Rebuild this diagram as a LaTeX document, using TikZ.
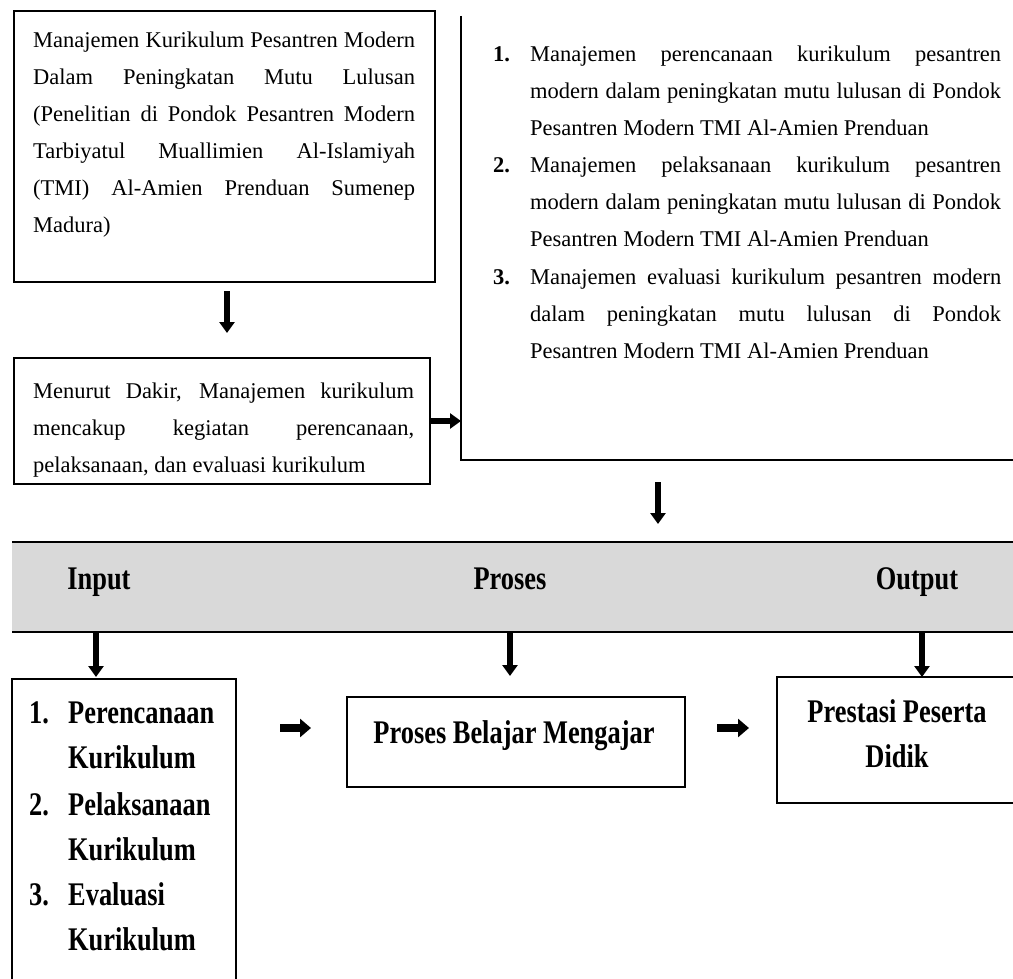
\documentclass[tikz,border=0pt]{standalone}
\usepackage{fontspec}
\setmainfont{Liberation Serif}
\usepackage{graphicx}
\usetikzlibrary{arrows.meta}

\newcommand\jl[1]{\makebox[\linewidth][s]{#1}\\}
\newcommand\cnd[1]{\scalebox{0.8}[1]{#1}}

\tikzset{
  boxline/.style={draw=black, line width=1.3pt},
  frame/.style={inner sep=0pt, outer sep=0pt, anchor=north west},
  arr/.style={line width=6.5pt, -{Triangle[width=15pt,length=11pt]}},
  fatarr/.style={line width=8pt, -{Triangle[width=18pt,length=11pt]}},
  txt/.style={inner sep=0pt, anchor=base west, font=\fontsize{22.5}{37}\selectfont},
  btxt/.style={inner sep=0pt, font=\fontsize{33}{45.5}\selectfont\bfseries},
}

\begin{document}
\begin{tikzpicture}[x=1pt,y=-1pt]
\useasboundingbox (0,0) rectangle (1013,979);

% ---------- frames ----------
\node[frame, boxline, minimum width=421pt, minimum height=271pt] (b1) at (14,11) {};
\node[frame, boxline, minimum width=416pt, minimum height=126pt] (b2) at (14,358) {};
\node[frame, minimum width=552pt, minimum height=444pt] (rb) at (461,16) {};
\draw[boxline] (rb.north west) -- (rb.south west) -- (rb.south east);

\node[frame, fill=gray!30, minimum width=1001pt, minimum height=90pt] (band) at (12,542) {};
\draw[boxline] (band.north west) -- (band.north east);
\draw[boxline] (band.south west) -- (band.south east);

\node[frame, minimum width=224pt, minimum height=300pt] (ib) at (12,679) {};
\draw[boxline] (ib.south west) -- (ib.north west) -- (ib.north east) -- (ib.south east);
\node[frame, boxline, minimum width=338pt, minimum height=90pt] (pb) at (347,697) {};
\node[frame, minimum width=236pt, minimum height=126pt] (ob) at (777,677) {};
\draw[boxline] (ob.north east) -- (ob.north west) -- (ob.south west) -- (ob.south east);

% ---------- texts, top ----------
\node[txt] (t1) at (33,48) {\parbox[t]{382pt}{%
\jl{Manajemen Kurikulum Pesantren Modern}%
\jl{Dalam Peningkatan Mutu Lulusan}%
\jl{(Penelitian di Pondok Pesantren Modern}%
\jl{Tarbiyatul Muallimien Al-Islamiyah}%
\jl{(TMI) Al-Amien Prenduan Sumenep}%
Madura)}};

\node[txt] (t2) at (33,398) {\parbox[t]{381pt}{%
\jl{Menurut Dakir, Manajemen kurikulum}%
\jl{mencakup kegiatan perencanaan,}%
pelaksanaan, dan evaluasi kurikulum}};

\node[txt, font=\fontsize{22.5}{37}\selectfont\bfseries] (n1) at (493,62) {1.};
\node[txt] (r1) at (530,62) {\parbox[t]{471pt}{%
\jl{Manajemen perencanaan kurikulum pesantren}%
\jl{modern dalam peningkatan mutu lulusan di Pondok}%
Pesantren Modern TMI Al-Amien Prenduan}};

\node[txt, font=\fontsize{22.5}{37}\selectfont\bfseries] (n2) at (493,173) {2.};
\node[txt] (r2) at (530,173) {\parbox[t]{471pt}{%
\jl{Manajemen pelaksanaan kurikulum pesantren}%
\jl{modern dalam peningkatan mutu lulusan di Pondok}%
Pesantren Modern TMI Al-Amien Prenduan}};

\node[txt, font=\fontsize{22.5}{37}\selectfont\bfseries] (n3) at (493,284) {3.};
\node[txt] (r3) at (530,284) {\parbox[t]{471pt}{%
\jl{Manajemen evaluasi kurikulum pesantren modern}%
\jl{dalam peningkatan mutu lulusan di Pondok}%
Pesantren Modern TMI Al-Amien Prenduan}};

% ---------- band labels ----------
\node[btxt, anchor=base] (lin) at (99,589) {\cnd{Input}};
\node[btxt, anchor=base] (lpr) at (510,589) {\cnd{Proses}};
\node[btxt, anchor=base] (lout) at (917,589) {\cnd{Output}};

% ---------- input list ----------
\node[btxt, anchor=base west] (i1) at (29,723) {\cnd{1.}};
\node[btxt, anchor=base west] (i1t) at (68,723) {\parbox[t]{165pt}{\cnd{Perencanaan}\\\cnd{Kurikulum}}};
\node[btxt, anchor=base west] (i2) at (29,815) {\cnd{2.}};
\node[btxt, anchor=base west] (i2t) at (68,815) {\parbox[t]{165pt}{\cnd{Pelaksanaan}\\\cnd{Kurikulum}}};
\node[btxt, anchor=base west] (i3) at (29,905) {\cnd{3.}};
\node[btxt, anchor=base west] (i3t) at (68,905) {\parbox[t]{165pt}{\cnd{Evaluasi}\\\cnd{Kurikulum}}};

% ---------- process / output ----------
\node[btxt, anchor=base] (pbt) at (514,743) {\cnd{Proses Belajar Mengajar}};
\node[btxt, anchor=base] (ot1) at (897,722) {\cnd{Prestasi Peserta}};
\node[btxt, anchor=base] (ot2) at (897,767) {\cnd{Didik}};

% ---------- arrows ----------
\coordinate (a1s) at (227,291);
\coordinate (a1e) at (227,333);
\draw[arr] (a1s) -- (a1e);

\draw[arr] (b2.east) -- (b2.east -| rb.west);

\coordinate (a3s) at (658,482);
\coordinate (a3e) at (658,524);
\draw[arr] (a3s) -- (a3e);

\coordinate (d1s) at (96,633);
\coordinate (d1e) at (96,677);
\coordinate (d2s) at (510,633);
\coordinate (d2e) at (510,676);
\coordinate (d3s) at (922,633);
\coordinate (d3e) at (922,677);
\draw[arr] (d1s) -- (d1e);
\draw[arr] (d2s) -- (d2e);
\draw[arr] (d3s) -- (d3e);

\coordinate (h1s) at (280,728);
\coordinate (h1e) at (311,728);
\coordinate (h2s) at (717,728);
\coordinate (h2e) at (749,728);
\draw[fatarr] (h1s) -- (h1e);
\draw[fatarr] (h2s) -- (h2e);
\end{tikzpicture}
\end{document}
